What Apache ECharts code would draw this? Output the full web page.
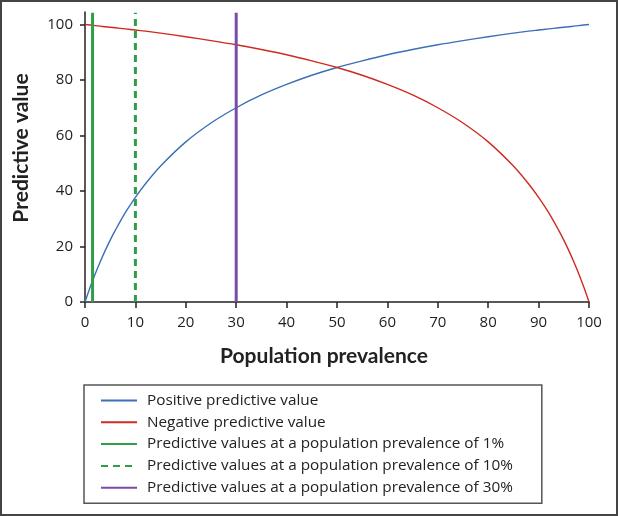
<!DOCTYPE html>
<html>
<head>
<meta charset="utf-8">
<script src="https://cdn.jsdelivr.net/npm/echarts@6/dist/echarts.min.js"></script>
<style>
html, body { margin: 0; padding: 0; background: #fff; }
#chart { width: 618px; height: 516px; }
</style>
</head>
<body>
<div id="chart"></div>
<script>
// prevalence (%) and predictive values (%)
var prevalence = [0, 1, 2, 3, 4, 5, 6, 8, 10, 12, 15, 20, 25, 30, 35, 40, 45, 50, 55, 60,
	65, 70, 75, 80, 85, 88, 90, 92, 94, 95, 96, 97, 98, 99, 100];
var ppv = [0, 5.2, 10.0, 14.4, 18.5, 22.3, 25.8, 32.2, 37.7, 42.6, 49.0, 57.7, 64.5, 70.0, 74.6,
	78.4, 81.7, 84.5, 86.9, 89.1, 91.0, 92.7, 94.2, 95.6, 96.9, 97.6, 98.0, 98.4, 98.8, 99.0,
	99.2, 99.4, 99.6, 99.8, 100];
var npv = [100, 99.8, 99.6, 99.4, 99.2, 99.0, 98.8, 98.4, 98.0, 97.6, 96.9, 95.6, 94.2, 92.7,
	91.0, 89.1, 86.9, 84.5, 81.7, 78.4, 74.6, 70.0, 64.5, 57.7, 49.0, 42.6, 37.7, 32.2, 25.8,
	22.3, 18.5, 14.4, 10.0, 5.2, 0];
var markerX = [1.5, 10, 30];
var lineTop = 104.2;
var yTicks = [0, 20, 40, 60, 80, 100];

var names = [ 'Positive predictive value', 'Negative predictive value',
	'Predictive values at a population prevalence of 1%',
	'Predictive values at a population prevalence of 10%',
	'Predictive values at a population prevalence of 30%' ];

function pairs(xs, ys) {
	var out = [];
	for (var i = 0; i < xs.length; i++) {
		out.push([ xs[i], ys[i] ]);
	}
	return out;
}

var font = '"Open Sans", "Noto Sans", sans-serif';
var titleFont = 'Lato, "Open Sans", sans-serif';
var chart = echarts.init(document.getElementById('chart'));
var option = {
	animation : false,
	textStyle : { fontFamily : font },
	graphic : [ {
		type : 'rect',
		shape : { x : 1, y : 1, width : 616, height : 514 },
		style : { fill : null, stroke : '#444', lineWidth : 2 },
		silent : true
	} ],
	grid : { left : 85, right : 29, top : 12, bottom : 214 },
	legend : {
		orient : 'vertical',
		left : 84,
		top : 385,
		padding : [ 8, 29, 8, 16 ],
		itemWidth : 36,
		itemHeight : 14,
		itemGap : 6.8,
		borderColor : '#555',
		borderWidth : 1.5,
		borderRadius : 0,
		itemStyle : { opacity : 0 },
		lineStyle : { width : 2 },
		textStyle : { fontSize : 15.3, lineHeight : 15, color : '#222', fontFamily : font, padding : [ 0, 0, 0, 5 ] },
		data : names
	},
	xAxis : {
		type : 'value',
		min : 0,
		max : 100,
		interval : 10,
		splitLine : { show : false },
		axisLine : { lineStyle : { color : '#222', width : 1.5 } },
		axisTick : { length : 6, lineStyle : { color : '#222', width : 1.5 } },
		axisLabel : { fontSize : 15, color : '#222', margin : 13, fontFamily : font },
		name : 'Population prevalence',
		nameLocation : 'middle',
		nameGap : 44,
		nameTextStyle : { fontSize : 21, fontWeight : 'bold', color : '#222', fontFamily : titleFont, padding : [ 0, 26, 0, 0 ] }
	},
	yAxis : {
		type : 'value',
		min : 0,
		max : lineTop + 0.3,
		splitLine : { show : false },
		axisLine : { show : true, lineStyle : { color : '#222', width : 1.5 } },
		axisTick : { show : true, length : 5, customValues : yTicks, lineStyle : { color : '#222', width : 1.5 } },
		axisLabel : { fontSize : 15, color : '#222', margin : 12, customValues : yTicks, fontFamily : font },
		name : 'Predictive value',
		nameLocation : 'middle',
		nameGap : 53,
		nameTextStyle : { fontSize : 21, fontWeight : 'bold', color : '#222', fontFamily : titleFont, padding : [ 0, 0, 0, 18 ] }
	},
	series : [ {
		name : names[0],
		type : 'line',
		smooth : 0.3,
		showSymbol : false,
		symbol : 'none',
		lineStyle : { color : '#3c6fb6', width : 1.4 },
		itemStyle : { color : '#3c6fb6' },
		data : pairs(prevalence, ppv)
	}, {
		name : names[1],
		type : 'line',
		smooth : 0.3,
		showSymbol : false,
		symbol : 'none',
		lineStyle : { color : '#cf2a20', width : 1.4 },
		itemStyle : { color : '#cf2a20' },
		data : pairs(prevalence, npv)
	}, {
		name : names[2],
		type : 'line',
		symbol : 'none',
		lineStyle : { color : '#2e9e48', width : 3 },
		itemStyle : { color : '#2e9e48' },
		data : [ [ markerX[0], 0 ], [ markerX[0], lineTop ] ]
	}, {
		name : names[3],
		type : 'line',
		symbol : 'none',
		lineStyle : { color : '#2e9e48', width : 3, type : [ 7, 5 ] },
		itemStyle : { color : '#2e9e48' },
		data : [ [ markerX[1], 0 ], [ markerX[1], lineTop ] ]
	}, {
		name : names[4],
		type : 'line',
		symbol : 'none',
		lineStyle : { color : '#7a4ca6', width : 3 },
		itemStyle : { color : '#7a4ca6' },
		data : [ [ markerX[2], 0 ], [ markerX[2], lineTop ] ]
	} ]
};
chart.setOption(option);
</script>
</body>
</html>
